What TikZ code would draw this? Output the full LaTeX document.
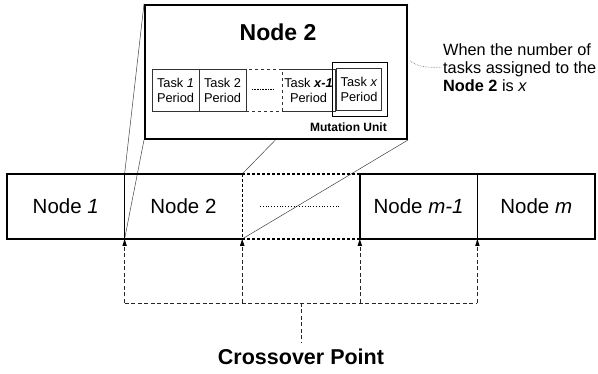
\documentclass[tikz,border=0pt]{standalone}
\usepackage{fontspec}
\setmainfont{Liberation Sans}
\usetikzlibrary{arrows.meta}
\pgfdeclarelayer{bg}
\pgfsetlayers{bg,main}
\begin{document}
\begin{tikzpicture}[x=1pt,y=-1pt,
  mainbox/.style={minimum width=117.6pt, minimum height=65pt, inner sep=0pt, outer sep=0pt, line width=1.4pt, font=\fontsize{20.5}{24}\selectfont},
  taskbox/.style={minimum height=42pt, inner sep=0pt, outer sep=0pt, align=center, line width=0.6pt, font=\fontsize{12.8}{15}\selectfont},
  gapdash/.style={line width=1.3pt, dash pattern=on 3pt off 2pt},
  xdash/.style={line width=0.6pt, black!85, dash pattern=on 4pt off 2.5pt},
  zoomline/.style={line width=0.5pt, black!75},
  tiphead/.style={fill=black}
]
\useasboundingbox (0,0) rectangle (598,374);

% main row
\node[mainbox, draw] (n1) at (65.8,206.5) {Node \textit{1}};
\node[mainbox] (n2) at (183.4,206.5) {Node 2};
\node[mainbox] (gap) at (301,206.5) {};
\node[mainbox, draw] (nm1) at (418.6,206.5) {Node \textit{m-1}};
\node[mainbox, draw] (nm) at (536.2,206.5) {Node \textit{m}};
\draw[line width=1.4pt] (n2.south east) -- (n2.south west) -- (n2.north west) -- (n2.north east);
\draw[gapdash] (gap.north west) -- (gap.north east);
\draw[gapdash] (gap.south west) -- (gap.south east);
\draw[gapdash] (gap.north west) -- (gap.south west);
\draw[line width=0.8pt, dotted] ([xshift=-41pt]gap.center) -- ([xshift=39pt]gap.center);

% inset
\node[draw, fill=white, line width=2pt, minimum width=262pt, minimum height=134pt, inner sep=0pt] (inset) at (276,72) {};
\node[font=\fontsize{23}{26}\selectfont\bfseries] (ititle) at (278,32) {Node 2};
\node[taskbox, draw=black!80, minimum width=47pt] (t1) at (175.5,90) {Task \textit{1}\\Period};
\node[taskbox, draw=black!80, minimum width=47pt] (t2) at (222.5,90) {Task 2\\Period};
\node[taskbox, draw=black!80, dashed, minimum width=36pt] (tg) at (264,90) {};
\draw[line width=0.6pt, densely dotted] ([xshift=-12pt,yshift=1pt]tg.center) -- ([xshift=10pt,yshift=1pt]tg.center);
\node[taskbox, minimum width=53pt] (tx1) at (308.5,90) {Task \textbf{\textit{x-1}}\\Period};
\draw[line width=0.6pt, black!80] (tx1.north west) -- (tx1.north east) -- (tx1.south east) -- (tx1.south west);
\node[taskbox, draw=black!80, minimum width=45pt] (tx) at (359,89) {Task \textit{x}\\Period};
\node[draw, line width=0.9pt, minimum width=55pt, minimum height=54pt, inner sep=0pt] (mut) at (359.5,89) {};
\node[anchor=base east, inner sep=0pt, font=\fontsize{12}{14}\selectfont\bfseries] (mutl) at (387,132) {Mutation Unit};

% zoom lines
\begin{pgfonlayer}{bg}
\draw[zoomline] (inset.north west) -- (n2.north west);
\draw[zoomline] (inset.south west) -- (n2.south west);
\draw[zoomline] (inset.north east) -- (n2.north east);
\draw[zoomline] (inset.south east) -- (n2.south east);
\end{pgfonlayer}

% annotation
\node[anchor=north west, align=left, inner sep=0pt, font=\fontsize{16.3}{18}\selectfont] (ann) at (443,43)
  {When the number of\\tasks assigned to the\\\textbf{Node 2} is \textit{x}};
\coordinate (lead) at (410,61);
\draw[black!55, line width=0.6pt, densely dotted] (lead) to[out=-35,in=180] ([xshift=-1pt]ann.west);

% crossover
\coordinate (cp) at (301,303);
\coordinate (cpt) at (301,343);
\node[font=\fontsize{21.5}{24}\selectfont\bfseries] (cross) at (301,357) {Crossover Point};
\foreach \a in {n2.south west, gap.south west, gap.south east, nm1.south east}{
  \draw[xdash] (\a |- cp) -- ([yshift=-5pt]\a);
  \fill[tiphead] ([xshift=-2.3pt,yshift=-7pt]\a) -- (\a) -- ([xshift=2.3pt,yshift=-7pt]\a) -- cycle;
}
\draw[xdash] (n2.south west |- cp) -- (nm1.south east |- cp);
\draw[xdash] (cp) -- (cpt);
\end{tikzpicture}
\end{document}
